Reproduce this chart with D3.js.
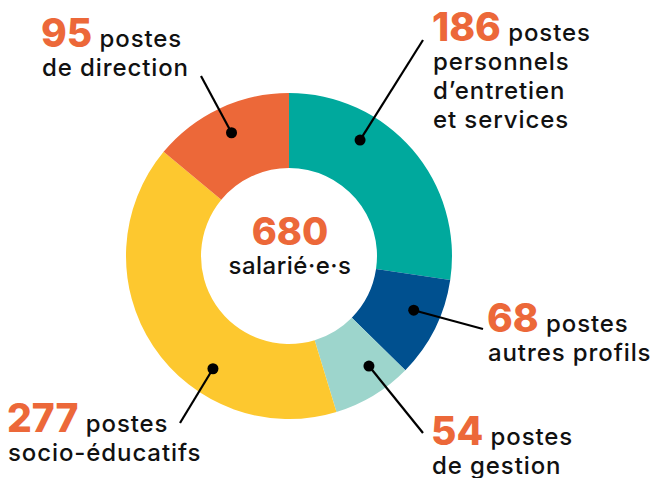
<!DOCTYPE html>
<html>
<head>
<meta charset="utf-8">
<script src="https://cdn.jsdelivr.net/npm/d3@7"></script>
<style>
  body { margin: 0; background: #fff; }
  svg { display: block; }
  text { font-family: Inter, "Open Sans", sans-serif; }
</style>
</head>
<body>
<svg id="chart" width="653" height="478"></svg>
<script>
// postes par catégorie (sens horaire depuis midi)
const categories = ['personnels d’entretien et services', 'autres profils', 'de gestion', 'socio-éducatifs', 'de direction'];
const values = [186, 68, 54, 277, 95];
const colors = ['#00A99D', '#00508F', '#9DD5CC', '#FDC82F', '#EC6839'];

// texte des étiquettes (1re ligne après le nombre, puis lignes suivantes)
const labelLines = [
  ['postes', 'personnels', 'd’entretien', 'et services'],
  ['postes', 'autres profils'],
  ['postes', 'de gestion'],
  ['postes', 'socio-éducatifs'],
  ['postes', 'de direction']
];
const centerLabel = 'salarié·e·s';

// layout
const cx = 289, cy = 256;
const outerR = 163, innerR = 88;
const dotR = 136;
// angle (deg) of each pointer dot, and where the line goes / where text sits
const pointerAngle = [31.5, 113.5, 144, 214, 335];
const lineEnd = [[423, 40], [483, 329], [423, 433], [180, 423], [201, 76]];
const labelPos = [[432, 41], [487, 332], [431, 445], [7, 432], [41, 47]];

const svg = d3.select('#chart');
const g = svg.append('g').attr('transform', 'translate(' + cx + ',' + cy + ')');

const total = d3.sum(values);
const pie = d3.pie().sort(null).value(d => d);
const arcs = pie(values);
const arc = d3.arc().innerRadius(innerR).outerRadius(outerR);

g.selectAll('path.slice')
  .data(arcs)
  .enter().append('path')
  .attr('class', 'slice')
  .attr('d', arc)
  .attr('fill', (d, i) => colors[i]);

// pointers
const rad = a => a * Math.PI / 180;
const dotX = i => cx + dotR * Math.sin(rad(pointerAngle[i]));
const dotY = i => cy - dotR * Math.cos(rad(pointerAngle[i]));

svg.selectAll('line.pointer')
  .data(values)
  .enter().append('line')
  .attr('class', 'pointer')
  .attr('x1', (d, i) => dotX(i))
  .attr('y1', (d, i) => dotY(i))
  .attr('x2', (d, i) => lineEnd[i][0])
  .attr('y2', (d, i) => lineEnd[i][1])
  .attr('stroke', '#000')
  .attr('stroke-width', 2.2);

svg.selectAll('circle.dot')
  .data(values)
  .enter().append('circle')
  .attr('class', 'dot')
  .attr('cx', (d, i) => dotX(i))
  .attr('cy', (d, i) => dotY(i))
  .attr('r', 5.5)
  .attr('fill', '#000');

// labels
values.forEach(function(v, i) {
  let x = labelPos[i][0], y = labelPos[i][1];
  let t = svg.append('text').attr('x', x).attr('y', y);
  t.append('tspan')
    .text(v)
    .attr('font-size', 39)
    .attr('font-weight', 800)
    .attr('fill', '#EC6839');
  t.append('tspan')
    .text(' ' + labelLines[i][0])
    .attr('font-size', 24)
    .attr('font-weight', 500)
    .attr('letter-spacing', 0.9)
    .attr('fill', '#111');
  labelLines[i].slice(1).forEach(function(line, j) {
    svg.append('text')
      .attr('x', x + 1)
      .attr('y', y + 29 * (j + 1))
      .attr('font-size', 24)
      .attr('font-weight', 500)
      .attr('letter-spacing', 0.9)
      .attr('fill', '#111')
      .text(line);
  });
});

// centre
svg.append('text')
  .attr('x', cx + 1).attr('y', 245)
  .attr('text-anchor', 'middle')
  .attr('font-size', 38)
  .attr('font-weight', 800)
  .attr('fill', '#EC6839')
  .text(total);

svg.append('text')
  .attr('x', cx + 1).attr('y', 274)
  .attr('text-anchor', 'middle')
  .attr('font-size', 24)
  .attr('font-weight', 500)
  .attr('letter-spacing', 0.5)
  .attr('fill', '#111')
  .text(centerLabel);
</script>
</body>
</html>
